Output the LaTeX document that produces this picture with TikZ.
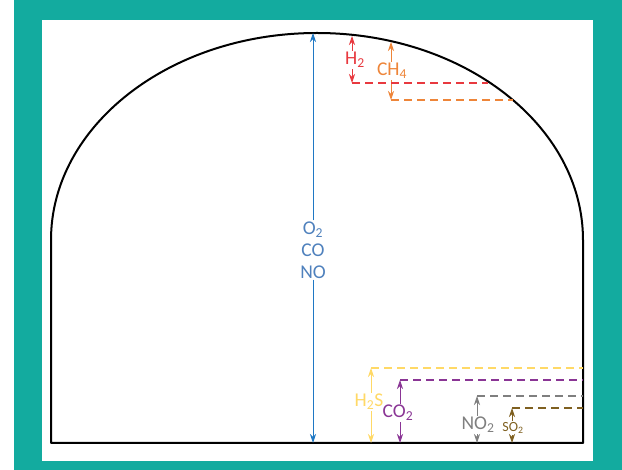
\documentclass[tikz,border=0pt]{standalone}
\usepackage{fontspec}
\setmainfont{Carlito}
\usetikzlibrary{arrows.meta}
\definecolor{frameteal}{HTML}{13AB9F}
\definecolor{gasblue}{HTML}{1F78C4}
\definecolor{gasbluetext}{HTML}{4F81BD}
\definecolor{gasred}{HTML}{E8393F}
\definecolor{gasorange}{HTML}{EE8539}
\definecolor{gasyellow}{HTML}{FFD966}
\definecolor{gaspurple}{HTML}{8A3595}
\definecolor{gasgrey}{HTML}{7F7F7F}
\definecolor{gasbrown}{HTML}{7F6020}

\begin{document}
\begin{tikzpicture}[
  x=1pt, y=-1pt,
  gasarrow/.style={-{Stealth[length=9pt,width=6pt]}, line width=0.8pt},
  gaslevel/.style={dash pattern=on 8pt off 5pt, line width=1.4pt},
  gaslabel/.style={inner sep=1pt, align=center, font=\fontsize{19.5}{22}\selectfont},
  smalllabel/.style={inner sep=1pt, font=\fontsize{14}{16}\selectfont}
]
  % frame
  \useasboundingbox (0,0) rectangle (622,470);
  \fill[frameteal] (14,0) rectangle (622,470);
  \fill[white] (42,20) rectangle (593,461);

  % tunnel section
  \draw[line width=2pt, line join=round] (51,443) -- (51,240)
    arc[start angle=180, end angle=360, x radius=266, y radius=207]
    -- (583,443) -- cycle;

  % end points of the gas arrows
  \coordinate (o2top) at (313,33);   \coordinate (o2bot) at (313,443);
  \coordinate (h2top) at (352,36);   \coordinate (h2bot) at (352,83);
  \coordinate (ch4top) at (391,42);  \coordinate (ch4bot) at (391,100);
  \coordinate (h2stop) at (371,368); \coordinate (h2sbot) at (371,443);
  \coordinate (co2top) at (400,380); \coordinate (co2bot) at (400,443);
  \coordinate (no2top) at (477,396); \coordinate (no2bot) at (477,443);
  \coordinate (so2top) at (512,408); \coordinate (so2bot) at (512,443);

  % where the levels meet the arch or the wall
  \coordinate (h2end) at (488,83);
  \coordinate (ch4end) at (513,100);
  \coordinate (h2send) at (583,368);
  \coordinate (co2end) at (583,380);
  \coordinate (no2end) at (583,396);
  \coordinate (so2end) at (583,408);

  % labels
  \node[gaslabel, text=gasbluetext] (lblO) at (313,250) {O\textsubscript{2}\\CO\\NO};
  \node[gaslabel, text=gasred] (lblH2) at (355,60) {H\textsubscript{2}};
  \node[gaslabel, text=gasorange] (lblCH4) at (392,71) {CH\textsubscript{4}};
  \node[gaslabel, text=gasyellow] (lblH2S) at (369,402) {H\textsubscript{2}S};
  \node[gaslabel, text=gaspurple] (lblCO2) at (398,413) {CO\textsubscript{2}};
  \node[gaslabel, text=gasgrey] (lblNO2) at (478,425) {NO\textsubscript{2}};
  \node[smalllabel, text=gasbrown] (lblSO2) at (513,428) {SO\textsubscript{2}};

  % arrows
  \draw[gasarrow, gasblue] (lblO) -- (o2top);
  \draw[gasarrow, gasblue] (lblO) -- (o2bot);
  \draw[gasarrow, gasred] (lblH2.north -| h2top) -- (h2top);
  \draw[gasarrow, gasred] (lblH2.south -| h2top) -- (h2bot);
  \draw[gasarrow, gasorange] (lblCH4.north -| ch4top) -- (ch4top);
  \draw[gasarrow, gasorange] (lblCH4.south -| ch4top) -- (ch4bot);
  \draw[gasarrow, gasyellow] (lblH2S.north -| h2stop) -- (h2stop);
  \draw[gasarrow, gasyellow] (lblH2S.south -| h2stop) -- (h2sbot);
  \draw[gasarrow, gaspurple] (lblCO2.north -| co2top) -- (co2top);
  \draw[gasarrow, gaspurple] (lblCO2.south -| co2top) -- (co2bot);
  \draw[gasarrow, gasgrey] (lblNO2.north -| no2top) -- (no2top);
  \draw[gasarrow, gasgrey] (lblNO2.south -| no2top) -- (no2bot);
  \draw[gasarrow, gasbrown] (lblSO2.north -| so2top) -- (so2top);
  \draw[gasarrow, gasbrown] (lblSO2.south -| so2top) -- (so2bot);

  % gas levels
  \draw[gaslevel, gasred] (h2bot) -- (h2end);
  \draw[gaslevel, gasorange] (ch4bot) -- (ch4end);
  \draw[gaslevel, gasyellow] (h2stop) -- (h2send);
  \draw[gaslevel, gaspurple] (co2top) -- (co2end);
  \draw[gaslevel, gasgrey] (no2top) -- (no2end);
  \draw[gaslevel, gasbrown] (so2top) -- (so2end);
\end{tikzpicture}
\end{document}
